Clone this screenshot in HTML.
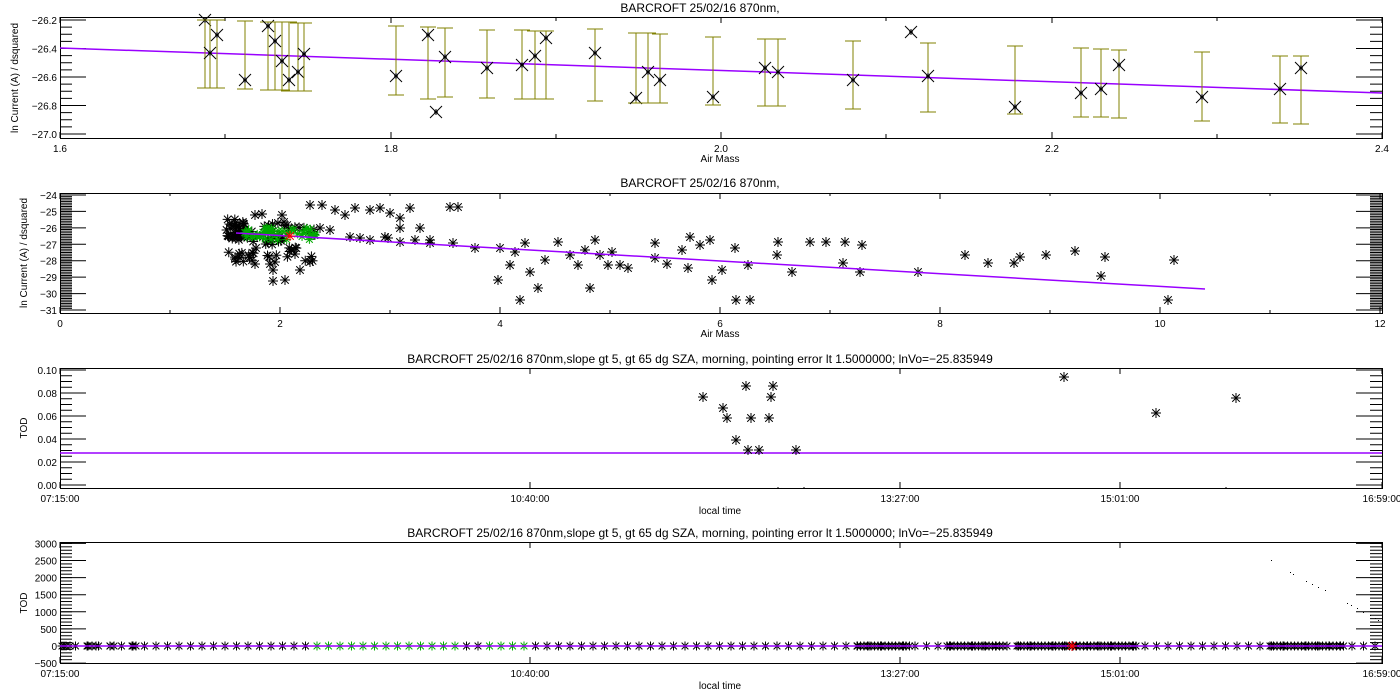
<!DOCTYPE html>
<html><head><meta charset="utf-8"><style>
html,body{margin:0;padding:0;background:#fff;width:1400px;height:700px;overflow:hidden}
svg text{font-family:"Liberation Sans",sans-serif;fill:#000}
</style></head><body>
<svg id="s" width="1400" height="700" xmlns="http://www.w3.org/2000/svg"></svg>
<script>
var S=document.getElementById('s'),h='';
function L(x1,y1,x2,y2,c,w){h+='<line x1="'+x1+'" y1="'+y1+'" x2="'+x2+'" y2="'+y2+'" stroke="'+(c||'#000')+'" stroke-width="'+(w||1)+'"/>';}
function T(x,y,t,a,sz,rot){h+='<text x="'+x+'" y="'+y+'" font-size="'+(sz||10)+'" text-anchor="'+(a||'middle')+'"'+(rot?' transform="rotate(-90 '+x+' '+y+')"':'')+'>'+t+'</text>';}
function star(x,y,r,c){c=c||'#000';L(x-r,y,x+r,y,c);L(x,y-r,x,y+r,c);var d=r*0.75;L(x-d,y-d,x+d,y+d,c);L(x-d,y+d,x+d,y-d,c);}
function frame(t,b){h+='<rect x="60.5" y="'+(t+.5)+'" width="1322" height="'+(b-t)+'" fill="none" stroke="#000"/>';}
function yt(ys,t,b,lab,both,maj,mins){
 ys.forEach(function(p){L(60,p[0],86,p[0]);if(both)L(1356,p[0],1382,p[0]);T(57,p[0]+4,p[1],'end',10);});
 mins.forEach(function(y){L(60,y,72,y);if(both)L(1370,y,1382,y);});
}
var seed=7;function rnd(){seed=(seed*9301+49297)%233280;return seed/233280;}
// ---------- Plot 1 ----------
frame(17,138);T(700,12,'BARCROFT 25/02/16 870nm,','middle',12);
T(18,78,'ln Current (A) / dsquared','middle',10,1);T(720,162,'Air Mass');
var y1=function(v){return 20+( -26.2-v)/0.8*114;};
var mj=[],mn=[];for(var i=0;i<=4;i++){var v=-26.2-i*0.2;mj.push([y1(v),v.toFixed(1).replace('-','−')]);}
for(var i=0;i<=16;i++){mn.push(y1(-26.2-i*0.05));}
yt(mj,17,138,0,1,0,mn);
[[60,'1.6'],[391,'1.8'],[721,'2.0'],[1052,'2.2'],[1382,'2.4']].forEach(function(p){T(p[0],152,p[1]);L(p[0],138,p[0],132);L(p[0],17,p[0],23);});
[225,556,886,1217].forEach(function(x){L(x,138,x,134);L(x,17,x,21);});
L(60,48,1382,93,'#9900ff',1.5);
var P1=[[205,20,20,88],[210,53,20,88],[217,35,20,88],[245,80,21,89],[268,26,22,90],[275,41,22,90],[282,61,22,90],[289,80,22,91],[298,72,23,91],[304,54,23,91],[396,76,26,95],[428,35,27,99],[436,112,0,0],[445,57,28,97],[487,68,30,98],[522,65,30,99],[535,56,31,99],[546,38,31,99],[595,53,29,101],[636,98,33,103],[648,72,33,103],[660,80,34,103],[713,97,37,105],[765,68,39,106],[778,72,39,106],[853,80,41,109],[911,32,0,0],[928,76,43,112],[1015,107,46,114],[1081,93,48,117],[1101,89,49,117],[1119,65,50,118],[1202,97,52,121],[1280,89,56,123],[1301,68,56,124]];
P1.forEach(function(p){if(p[2]){var c='#808000';L(p[0],p[2],p[0],p[3],c);L(p[0]-8,p[2],p[0]+8,p[2],c);L(p[0]-8,p[3],p[0]+8,p[3],c);}
 L(p[0]-6,p[1]-6,p[0]+6,p[1]+6);L(p[0]-6,p[1]+6,p[0]+6,p[1]-6);L(p[0]-2,p[1],p[0]+2,p[1]);L(p[0],p[1]-3,p[0],p[1]+3);});
// ---------- Plot 2 ----------
frame(193,313);T(700,187,'BARCROFT 25/02/16 870nm,','middle',12);
T(27,253,'ln Current (A) / dsquared','middle',10,1);T(720,337,'Air Mass');
var y2=function(v){return 195+(-24-v)/7*115;};
mj=[];mn=[];for(var v=-24;v>=-31;v--)mj.push([y2(v),String(v).replace('-','−')]);
for(var i=0;i<=70;i++)mn.push(y2(-24-i*0.1));
yt(mj,193,313,0,1,0,mn);
for(var k=0;k<=6;k++){var x=60+k*220;T(x,327,String(k*2));L(x,313,x,307);L(x,193,x,199);if(k<6){L(x+110,313,x+110,310);L(x+110,193,x+110,196);}}
var P2=[[310,205],[322,205],[335,210],[345,215],[355,208],[370,210],[380,208],[390,213],[400,218],[410,208],[388,238],[415,240],[430,243],[450,207],[458,207],[400,228],[420,228],[320,228],[330,230],[350,237],[360,238],[370,240],[385,237],[400,242],[430,240],[453,243],[475,248],[500,248],[498,280],[510,265],[515,252],[520,300],[525,243],[530,272],[538,288],[545,260],[558,242],[570,255],[578,265],[585,250],[590,288],[595,240],[600,255],[608,265],[612,252],[620,265],[628,268],[655,243],[655,258],[667,264],[682,250],[688,268],[690,237],[700,245],[710,240],[712,280],[722,270],[735,248],[736,300],[748,265],[750,300],[778,242],[777,255],[792,272],[810,242],[826,242],[845,242],[843,263],[862,245],[860,272],[918,272],[965,255],[988,263],[1014,263],[1020,257],[1046,255],[1075,251],[1101,276],[1105,257],[1168,300],[1174,260],[255,215],[262,214],[240,258],[275,262],[285,280],[270,264],[295,254],[300,270],[310,262],[282,215],[284,222],[273,281],[273,270],[255,264],[241,237],[256,248]];
for(var i=0;i<70;i++)P2.push([228+rnd()*90,222+rnd()*40]);
for(var i=0;i<25;i++)P2.push([226+rnd()*20,218+rnd()*20]);
P2.forEach(function(p){star(p[0],p[1],5);});
for(var i=0;i<45;i++)star(242+rnd()*76,228+rnd()*12,4.5,'#00aa00');
L(236,233,1205,289,'#9900ff',1.5);
star(290,236,5,'#ff0000');
// ---------- Plot 3 ----------
frame(368,488);
T(700,363,'BARCROFT 25/02/16 870nm,slope gt 5, gt 65 dg SZA, morning, pointing error lt 1.5000000; lnVo=−25.835949','middle',12);
T(27,428,'TOD','middle',10,1);T(720,514,'local time');
var y3=function(v){return 485-v*1150;};
mj=[];mn=[];for(var i=0;i<=5;i++){var v=i*0.02;mj.push([y3(v),v.toFixed(2)]);}
for(var i=0;i<=20;i++)mn.push(y3(i*0.005));
yt(mj,368,488,0,1,0,mn);
[[60,'07:15:00'],[530,'10:40:00'],[900,'13:27:00'],[1120,'15:01:00'],[1382,'16:59:00']].forEach(function(p){T(p[0],502,p[1]);L(p[0],488,p[0],482);L(p[0],368,p[0],374);});
L(60,453,1382,453,'#9900ff',1.5);
[[703,397],[723,408],[727,418],[736,440],[746,386],[751,418],[773,386],[771,397],[769,418],[748,450],[759,450],[796,450],[1064,377],[1156,413],[1236,398]].forEach(function(p){star(p[0],p[1],5);});
h+='<clipPath id="c3"><rect x="60" y="368" width="1322" height="120"/></clipPath><g clip-path="url(#c3)">';
[[778,492],[804,492],[1226,492]].forEach(function(p){star(p[0],p[1],5);});h+='</g>';
// ---------- Plot 4 ----------
frame(542,663);
T(700,537,'BARCROFT 25/02/16 870nm,slope gt 5, gt 65 dg SZA, morning, pointing error lt 1.5000000; lnVo=−25.835949','middle',12);
T(27,603,'TOD','middle',10,1);T(720,689,'local time');
var y4=function(v){return 646-v/500*17.1;};
mj=[];mn=[];for(var v=3000;v>=-500;v-=500)mj.push([y4(v),String(v).replace('-','−')]);
for(var v=3000;v>=-1000;v-=100){var y=y4(v);if(y<=663)mn.push(y);}
yt(mj,542,663,0,1,0,mn);
[[60,'07:15:00'],[530,'10:40:00'],[900,'13:27:00'],[1120,'15:01:00'],[1382,'16:59:00']].forEach(function(p){T(p[0],677,p[1]);L(p[0],663,p[0],657);L(p[0],542,p[0],548);});
var xs=[];for(var x=64;x<1380;x+=11.5)xs.push(x);
[[857,911],[947,1005],[1017,1137],[1270,1345]].forEach(function(r){for(var x=r[0];x<r[1];x+=3.5)xs.push(x);});
[62,66,70,88,92,96,110,114,132,136].forEach(function(x){xs.push(x);});
xs.forEach(function(x){var g=(x>312&&x<465)||(x>485&&x<530);star(x,646,4.5,g?'#00aa00':'#000');});
L(60,646,1382,646,'#9900ff',1.5);
star(1072,646,5,'#ff0000');
[[1271,560],[1290,572],[1293,574],[1306,581],[1312,584],[1318,587],[1325,590],[1347,603],[1351,605],[1357,608],[1363,612],[1370,615],[1375,618],[1378,620]].forEach(function(p){h+='<rect x="'+p[0]+'" y="'+p[1]+'" width="1" height="1" fill="#000"/>';});
S.innerHTML=h;
</script>
</body></html>
